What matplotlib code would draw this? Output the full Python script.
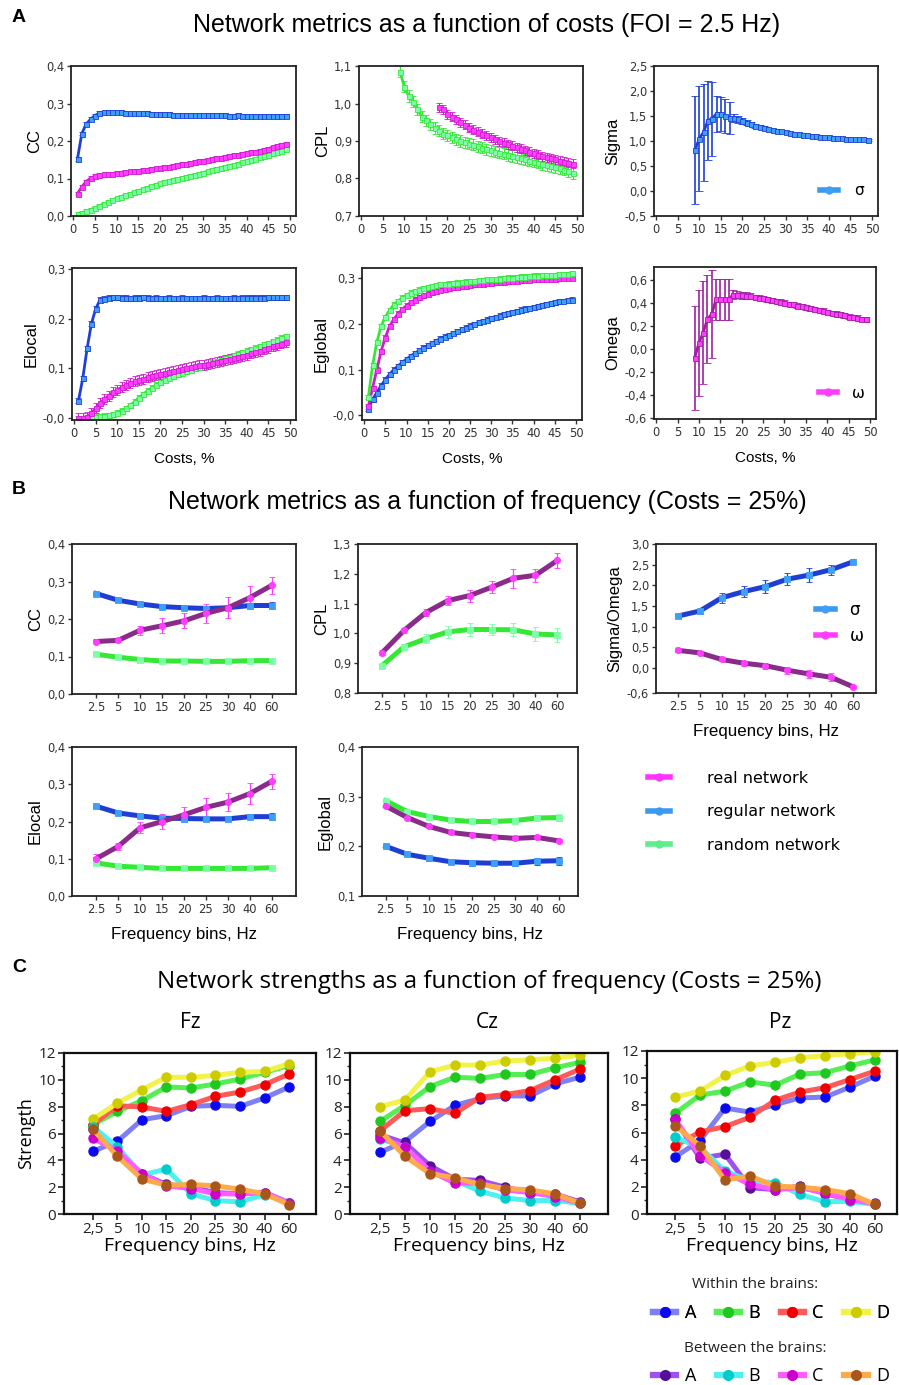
import matplotlib
matplotlib.use("Agg")
import matplotlib.pyplot as plt
from matplotlib.lines import Line2D
from matplotlib.ticker import MultipleLocator

# ---------------- panel A: metrics vs. costs (FOI = 2.5 Hz) ----------------
COSTS = list(range(1, 50))

CC_REG = [0.153, 0.220, 0.245, 0.258, 0.268, 0.274, 0.276, 0.277, 0.277, 0.278,
          0.277, 0.275, 0.274, 0.274, 0.274, 0.275, 0.275, 0.272, 0.272, 0.271,
          0.271, 0.271, 0.270, 0.270, 0.270, 0.270, 0.270, 0.269, 0.269, 0.269,
          0.269, 0.269, 0.269, 0.269, 0.269, 0.268, 0.268, 0.269, 0.268, 0.268,
          0.268, 0.268, 0.268, 0.268, 0.268, 0.268, 0.268, 0.268, 0.268]
CC_REAL = [0.060, 0.078, 0.092, 0.101, 0.106, 0.109, 0.111, 0.112, 0.113, 0.115,
           0.116, 0.118, 0.119, 0.120, 0.121, 0.122, 0.124, 0.125, 0.127, 0.129,
           0.130, 0.132, 0.134, 0.136, 0.138, 0.140, 0.142, 0.144, 0.146, 0.148,
           0.150, 0.152, 0.154, 0.156, 0.158, 0.160, 0.162, 0.164, 0.166, 0.168,
           0.170, 0.172, 0.174, 0.177, 0.180, 0.183, 0.186, 0.189, 0.192]
CC_RAND = [0.005, 0.009, 0.013, 0.017, 0.022, 0.027, 0.032, 0.037, 0.042, 0.047,
           0.051, 0.055, 0.059, 0.063, 0.067, 0.071, 0.075, 0.079, 0.083, 0.087,
           0.090, 0.093, 0.096, 0.099, 0.101, 0.104, 0.107, 0.110, 0.113, 0.116,
           0.119, 0.122, 0.125, 0.128, 0.131, 0.134, 0.137, 0.140, 0.143, 0.147,
           0.150, 0.153, 0.157, 0.160, 0.164, 0.167, 0.171, 0.174, 0.178]

# CPL only defined from 9 % (random) and 18 % (real)
CPL_RAND = [1.085, 1.045, 1.020, 1.005, 0.985, 0.965, 0.955, 0.945, 0.935, 0.928,
            0.920, 0.915, 0.910, 0.905, 0.900, 0.897, 0.893, 0.890, 0.886, 0.882,
            0.878, 0.875, 0.872, 0.869, 0.866, 0.863, 0.860, 0.857, 0.854, 0.851,
            0.848, 0.845, 0.842, 0.839, 0.836, 0.833, 0.830, 0.827, 0.824, 0.820,
            0.815]
CPL_REAL = [0.990, 0.985, 0.972, 0.965, 0.958, 0.950, 0.943, 0.935, 0.930, 0.925,
            0.920, 0.915, 0.910, 0.905, 0.900, 0.896, 0.892, 0.888, 0.884, 0.880,
            0.876, 0.872, 0.868, 0.864, 0.860, 0.857, 0.854, 0.851, 0.848, 0.845,
            0.842, 0.840]

SIGMA = [0.82, 1.05, 1.18, 1.41, 1.45, 1.55, 1.55, 1.50, 1.47, 1.47,
         1.44, 1.40, 1.37, 1.34, 1.31, 1.29, 1.27, 1.25, 1.23, 1.21,
         1.20, 1.18, 1.17, 1.15, 1.14, 1.13, 1.12, 1.11, 1.10, 1.09,
         1.08, 1.08, 1.07, 1.06, 1.06, 1.05, 1.05, 1.04, 1.04, 1.04,
         1.03]
SIGMA_ERR = [1.08, 1.05, 0.97, 0.79, 0.74, 0.36, 0.34, 0.34, 0.32, 0.08,
             0.07, 0.06, 0.05, 0.04, 0.04, 0.03, 0.03, 0.02, 0.02, 0.02,
             0.02, 0.02, 0.02, 0.02, 0.02, 0.02, 0.02, 0.02, 0.02, 0.02,
             0.02, 0.02, 0.02, 0.02, 0.02, 0.02, 0.02, 0.02, 0.02, 0.02,
             0.02]

ELOC_REG = [0.035, 0.080, 0.140, 0.190, 0.220, 0.238, 0.240, 0.242, 0.243, 0.243,
            0.242, 0.242, 0.241, 0.242, 0.242, 0.243, 0.242, 0.241, 0.242, 0.241,
            0.241, 0.242, 0.241, 0.241, 0.242, 0.241, 0.241, 0.241, 0.241, 0.242,
            0.241, 0.241, 0.242, 0.241, 0.241, 0.241, 0.242, 0.241, 0.242, 0.242,
            0.242, 0.242, 0.242, 0.242, 0.243, 0.243, 0.243, 0.243, 0.243]
ELOC_REAL = [0.000, 0.000, 0.003, 0.010, 0.020, 0.030, 0.038, 0.045, 0.052, 0.057,
             0.062, 0.066, 0.070, 0.074, 0.077, 0.079, 0.082, 0.085, 0.087, 0.089,
             0.090, 0.092, 0.094, 0.096, 0.098, 0.100, 0.102, 0.104, 0.106, 0.107,
             0.109, 0.111, 0.113, 0.115, 0.117, 0.119, 0.121, 0.123, 0.125, 0.127,
             0.130, 0.132, 0.135, 0.138, 0.141, 0.144, 0.147, 0.150, 0.153]
ELOC_RAND = [0.000, 0.000, 0.001, 0.002, 0.003, 0.004, 0.005, 0.006, 0.008, 0.011,
             0.015, 0.020, 0.026, 0.033, 0.041, 0.048, 0.055, 0.061, 0.067, 0.072,
             0.077, 0.081, 0.085, 0.088, 0.091, 0.094, 0.097, 0.100, 0.103, 0.106,
             0.108, 0.111, 0.114, 0.117, 0.120, 0.123, 0.126, 0.129, 0.132, 0.135,
             0.138, 0.141, 0.144, 0.148, 0.151, 0.155, 0.158, 0.162, 0.165]

EGLOB_REG = [0.015, 0.035, 0.050, 0.065, 0.078, 0.090, 0.100, 0.108, 0.116, 0.123,
             0.130, 0.136, 0.142, 0.148, 0.153, 0.158, 0.163, 0.168, 0.172, 0.176,
             0.180, 0.184, 0.188, 0.192, 0.196, 0.200, 0.203, 0.206, 0.209, 0.212,
             0.215, 0.218, 0.221, 0.223, 0.226, 0.228, 0.231, 0.233, 0.235, 0.237,
             0.239, 0.241, 0.243, 0.245, 0.247, 0.249, 0.250, 0.252, 0.253]
EGLOB_REAL = [0.020, 0.060, 0.100, 0.140, 0.170, 0.195, 0.210, 0.222, 0.232, 0.240,
              0.247, 0.253, 0.258, 0.262, 0.266, 0.269, 0.272, 0.274, 0.276, 0.278,
              0.280, 0.281, 0.282, 0.283, 0.285, 0.286, 0.287, 0.288, 0.289, 0.290,
              0.291, 0.292, 0.292, 0.293, 0.294, 0.294, 0.295, 0.296, 0.296, 0.297,
              0.297, 0.298, 0.298, 0.299, 0.299, 0.300, 0.300, 0.301, 0.301]
EGLOB_RAND = [0.040, 0.110, 0.160, 0.195, 0.215, 0.230, 0.242, 0.250, 0.257, 0.263,
              0.268, 0.272, 0.275, 0.278, 0.280, 0.282, 0.284, 0.286, 0.287, 0.288,
              0.289, 0.290, 0.291, 0.292, 0.293, 0.294, 0.295, 0.296, 0.297, 0.298,
              0.298, 0.299, 0.300, 0.301, 0.301, 0.302, 0.303, 0.303, 0.304, 0.305,
              0.305, 0.306, 0.306, 0.307, 0.307, 0.308, 0.308, 0.309, 0.310]

OMEGA = [-0.08, 0.05, 0.14, 0.26, 0.30, 0.43, 0.43, 0.43, 0.43, 0.47,
         0.47, 0.465, 0.46, 0.455, 0.45, 0.445, 0.44, 0.43, 0.42, 0.415,
         0.41, 0.40, 0.39, 0.385, 0.375, 0.37, 0.36, 0.35, 0.345, 0.335,
         0.33, 0.32, 0.31, 0.305, 0.30, 0.29, 0.28, 0.275, 0.27, 0.26,
         0.255]
OMEGA_ERR = [0.45, 0.46, 0.45, 0.38, 0.38, 0.18, 0.18, 0.18, 0.18, 0.04,
             0.03, 0.03, 0.03, 0.025, 0.02, 0.02, 0.02, 0.02, 0.02, 0.02,
             0.02, 0.02, 0.02, 0.02, 0.02, 0.02, 0.02, 0.02, 0.02, 0.02,
             0.02, 0.02, 0.02, 0.02, 0.02, 0.02, 0.02, 0.02, 0.02, 0.02,
             0.02]
COST_ERR = 0.005

# ---------------- panel B: metrics vs. frequency (costs = 25 %) ----------------
FREQ_B = ["2.5", "5", "10", "15", "20", "25", "30", "40", "60"]

B_CC_REG = [0.268, 0.250, 0.240, 0.233, 0.230, 0.228, 0.230, 0.236, 0.236]
B_CC_REG_ERR = [0.004, 0.004, 0.004, 0.005, 0.005, 0.005, 0.006, 0.008, 0.010]
B_CC_REAL = [0.140, 0.143, 0.170, 0.182, 0.195, 0.215, 0.230, 0.257, 0.290]
B_CC_REAL_ERR = [0.004, 0.005, 0.012, 0.020, 0.020, 0.025, 0.028, 0.030, 0.022]
B_CC_RAND = [0.106, 0.098, 0.092, 0.088, 0.088, 0.087, 0.087, 0.089, 0.089]

B_CPL_REAL = [0.935, 1.010, 1.070, 1.110, 1.127, 1.155, 1.185, 1.195, 1.245]
B_CPL_REAL_ERR = [0.008, 0.008, 0.012, 0.015, 0.020, 0.020, 0.032, 0.022, 0.025]
B_CPL_RAND = [0.892, 0.955, 0.982, 1.005, 1.013, 1.013, 1.012, 0.998, 0.995]
B_CPL_RAND_ERR = [0.008, 0.010, 0.015, 0.020, 0.022, 0.020, 0.022, 0.022, 0.024]

B_SIGMA = [1.26, 1.38, 1.70, 1.85, 1.97, 2.15, 2.25, 2.38, 2.57]
B_SIGMA_ERR = [0.05, 0.06, 0.12, 0.13, 0.15, 0.15, 0.16, 0.12, 0.06]
B_OMEGA = [0.43, 0.37, 0.21, 0.12, 0.06, -0.05, -0.14, -0.22, -0.45]
B_OMEGA_ERR = [0.02, 0.03, 0.04, 0.06, 0.07, 0.08, 0.09, 0.10, 0.03]

B_ELOC_REG = [0.241, 0.223, 0.215, 0.209, 0.208, 0.207, 0.207, 0.213, 0.213]
B_ELOC_REG_ERR = [0.004, 0.004, 0.004, 0.005, 0.005, 0.005, 0.006, 0.007, 0.009]
B_ELOC_REAL = [0.100, 0.133, 0.183, 0.200, 0.218, 0.238, 0.252, 0.275, 0.308]
B_ELOC_REAL_ERR = [0.012, 0.010, 0.015, 0.020, 0.020, 0.025, 0.025, 0.028, 0.020]
B_ELOC_RAND = [0.089, 0.080, 0.077, 0.074, 0.074, 0.074, 0.074, 0.074, 0.076]

B_EGLOB_RAND = [0.292, 0.270, 0.260, 0.253, 0.250, 0.250, 0.252, 0.257, 0.258]
B_EGLOB_REAL = [0.281, 0.258, 0.240, 0.228, 0.223, 0.219, 0.216, 0.218, 0.211]
B_EGLOB_REG = [0.200, 0.184, 0.176, 0.169, 0.167, 0.166, 0.166, 0.170, 0.171]
B_EGLOB_ERR = [0.004, 0.004, 0.005, 0.005, 0.006, 0.006, 0.006, 0.007, 0.008]

# ---------------- panel C: strengths vs. frequency ----------------
FREQ_C = ["2,5", "5", "10", "15", "20", "25", "30", "40", "60"]
STRENGTH_ERR = 0.25

FZ_WITHIN = {
    "A": [4.67, 5.42, 7.03, 7.33, 8.02, 8.10, 8.02, 8.65, 9.47],
    "B": [6.66, 7.65, 8.45, 9.47, 9.39, 9.69, 10.06, 10.56, 11.06],
    "C": [6.66, 8.07, 7.98, 7.65, 8.15, 8.77, 9.09, 9.64, 10.43],
    "D": [7.08, 8.27, 9.27, 10.19, 10.19, 10.34, 10.56, 10.63, 11.20],
}
FZ_BETWEEN = {
    "A": [6.30, 4.70, 3.00, 2.20, 2.00, 1.60, 1.50, 1.60, 0.85],
    "B": [6.50, 5.00, 2.90, 3.35, 1.50, 1.00, 0.90, 1.45, 0.85],
    "C": [5.65, 4.70, 3.00, 2.10, 1.90, 1.50, 1.50, 1.60, 0.80],
    "D": [6.30, 4.30, 2.60, 2.15, 2.20, 2.10, 1.85, 1.50, 0.70],
}
CZ_WITHIN = {
    "A": [4.60, 5.40, 6.90, 8.10, 8.60, 8.80, 8.80, 9.70, 10.20],
    "B": [6.90, 8.10, 9.50, 10.20, 10.10, 10.40, 10.40, 10.90, 11.30],
    "C": [6.20, 7.70, 7.85, 7.50, 8.70, 8.90, 9.20, 10.00, 10.80],
    "D": [8.00, 8.50, 10.60, 11.10, 11.10, 11.40, 11.50, 11.60, 11.85],
}
CZ_BETWEEN = {
    "A": [5.90, 5.30, 3.60, 2.60, 2.50, 2.00, 1.60, 1.50, 0.90],
    "B": [5.60, 5.00, 3.10, 2.50, 1.70, 1.20, 1.00, 1.00, 0.80],
    "C": [5.70, 5.00, 3.20, 2.30, 2.30, 1.80, 1.60, 1.30, 0.80],
    "D": [6.20, 4.30, 3.00, 2.70, 2.20, 1.90, 1.80, 1.50, 0.80],
}
PZ_WITHIN = {
    "A": [4.20, 5.40, 7.80, 7.50, 8.05, 8.55, 8.60, 9.35, 10.15],
    "B": [7.40, 8.75, 9.05, 9.73, 9.48, 10.30, 10.40, 10.90, 11.35],
    "C": [5.00, 6.05, 6.43, 7.13, 8.37, 8.98, 9.30, 9.90, 10.52],
    "D": [8.60, 9.05, 10.20, 10.90, 11.17, 11.50, 11.66, 11.80, 11.95],
}
PZ_BETWEEN = {
    "A": [7.00, 4.10, 4.40, 1.93, 1.80, 2.05, 1.50, 1.06, 0.80],
    "B": [5.65, 4.90, 3.17, 2.43, 2.30, 1.44, 0.90, 0.94, 0.70],
    "C": [7.00, 4.30, 3.05, 2.18, 1.80, 1.93, 1.56, 1.06, 0.77],
    "D": [6.50, 5.03, 2.50, 2.80, 2.05, 1.98, 1.80, 1.50, 0.70],
}

# colours: (line, marker)
REG = ("#1f3fd4", "#3f9ff5")
REAL_A = ("#cc1ecc", "#ff3cff")
REAL_B = ("#8a2a8a", "#ff3cff")
RAND = ("#35e835", "#7dffa8")
WITHIN_COL = {"A": ("#7f7ff5", "#0a0aee"), "B": ("#55ee55", "#1ec81e"),
              "C": ("#ff5a5a", "#ee0000"), "D": ("#f2f24a", "#cccc00")}
BETWEEN_COL = {"A": ("#a050f0", "#55109a"), "B": ("#50f0f0", "#00cccc"),
               "C": ("#ff5cff", "#cc00cc"), "D": ("#ffaa4a", "#a8561a")}

ARIAL = "Liberation Sans"
OPEN = "Open Sans"
plt.rcParams["font.family"] = "DejaVu Sans"

W, H = 899, 1385
fig = plt.figure(figsize=(W / 100, H / 100), dpi=100)


def add_ax(l, t, r, b):
    return fig.add_axes([l / W, 1 - b / H, (r - l) / W, (b - t) / H])


def frame(ax, ylim, yticks, ylabels, ylabel, fs=12, family=ARIAL, tick_fs=8.3):
    ax.set_ylim(*ylim)
    ax.set_yticks(yticks)
    ax.set_yticklabels(ylabels)
    ax.set_ylabel(ylabel, fontsize=fs, family=family, labelpad=3)
    for s in ax.spines.values():
        s.set_linewidth(1.3)
        s.set_color("#222222")
    ax.tick_params(direction="out", length=3, width=1, labelsize=tick_fs,
                   colors="#333333", pad=2)


def cost_axis(ax, xlabel=False):
    ax.set_xlim(-0.5, 51.4)
    ax.set_xticks(range(0, 51, 5))
    if xlabel:
        ax.set_xlabel("Costs, %", fontsize=11, family=ARIAL, labelpad=9)


def freq_axis(ax, xlim, xlabel=False):
    ax.set_xlim(*xlim)
    ax.set_xticks(range(len(FREQ_B)))
    ax.set_xticklabels(FREQ_B)
    if xlabel:
        ax.set_xlabel("Frequency bins, Hz", fontsize=12.2, family=ARIAL, labelpad=8)


def cost_line(ax, x, y, err, col):
    ax.errorbar(x, y, yerr=err, color=col[0], lw=2, marker="s", ms=3.6,
                mfc=col[1], mec=col[0], mew=0.6, ecolor=col[0], elinewidth=0.8,
                capsize=2, capthick=0.8)


def freq_line(ax, y, err, col, marker, ecol=None):
    ax.errorbar(range(len(y)), y, yerr=err, color=col[0], lw=3.6, marker=marker,
                ms=4.5, mfc=col[1], mec=col[1], mew=0.6, ecolor=ecol or col[1],
                elinewidth=0.9, capsize=2, capthick=0.9)


# ---------- A ----------
fig.text(12 / W, 1 - 18 / H, "A", fontsize=14, fontweight="bold", family=ARIAL, va="center")
fig.text(487 / W, 1 - 25 / H, "Network metrics as a function of costs (FOI = 2.5 Hz)",
         fontsize=18, family=ARIAL, ha="center", va="center")

ax = add_ax(71, 66, 296, 216)
cost_line(ax, COSTS, CC_RAND, COST_ERR, RAND)
cost_line(ax, COSTS, CC_REAL, COST_ERR, REAL_A)
cost_line(ax, COSTS, CC_REG, COST_ERR, REG)
cost_axis(ax)
frame(ax, (0, 0.4), [0, 0.1, 0.2, 0.3, 0.4], ["0,0", "0,1", "0,2", "0,3", "0,4"], "CC")

ax = add_ax(359, 66, 583, 216)
cost_line(ax, COSTS[8:], CPL_RAND, 0.015, RAND)
cost_line(ax, COSTS[17:], CPL_REAL, 0.012, REAL_A)
cost_axis(ax)
frame(ax, (0.7, 1.1), [0.7, 0.8, 0.9, 1.0, 1.1], ["0,7", "0,8", "0,9", "1,0", "1,1"], "CPL")

ax = add_ax(654, 66, 878, 216)
ax.errorbar(COSTS[8:], SIGMA, yerr=SIGMA_ERR, color=REG[0], lw=2, marker="s", ms=3.6,
            mfc=REG[1], mec=REG[0], mew=0.6, ecolor=REG[0], elinewidth=1.2,
            capsize=3, capthick=1.2)
cost_axis(ax)
frame(ax, (-0.5, 2.5), [-0.5, 0, 0.5, 1.0, 1.5, 2.0, 2.5],
      ["-0,5", "0,0", "0,5", "1,0", "1,5", "2,0", "2,5"], "Sigma")
ax.legend([Line2D([], [], color="#3a9af0", lw=4, marker="o", ms=5, mfc=REG[1], mec=REG[1])],
          ["σ"], loc="center left", bbox_to_anchor=(0.68, 0.17), frameon=False,
          fontsize=11, handlelength=1.2, handletextpad=1.0)

ax = add_ax(72, 268, 296, 420)
cost_line(ax, COSTS, ELOC_RAND, COST_ERR, RAND)
cost_line(ax, COSTS, ELOC_REAL, COST_ERR * 2, REAL_A)
cost_line(ax, COSTS, ELOC_REG, COST_ERR, REG)
cost_axis(ax, xlabel=True)
frame(ax, (-0.004, 0.302), [0, 0.1, 0.2, 0.3], ["-0,0", "0,1", "0,2", "0,3"], "Elocal")

ax = add_ax(362, 268, 582, 420)
cost_line(ax, COSTS, EGLOB_REG, COST_ERR, REG)
cost_line(ax, COSTS, EGLOB_REAL, COST_ERR, REAL_A)
cost_line(ax, COSTS, EGLOB_RAND, COST_ERR, RAND)
cost_axis(ax, xlabel=True)
frame(ax, (-0.01, 0.322), [0, 0.1, 0.2, 0.3], ["-0,0", "0,1", "0,2", "0,3"], "Eglobal")

ax = add_ax(654, 267, 876, 419)
ax.errorbar(COSTS[8:], OMEGA, yerr=OMEGA_ERR, color="#a020a0", lw=2, marker="s", ms=3.6,
            mfc=REAL_A[1], mec="#a020a0", mew=0.6, ecolor="#a020a0", elinewidth=1.2,
            capsize=3, capthick=1.2)
cost_axis(ax, xlabel=True)
frame(ax, (-0.61, 0.71), [-0.6, -0.4, -0.2, 0, 0.2, 0.4, 0.6],
      ["-0,6", "-0,4", "-0,2", "0,0", "0,2", "0,4", "0,6"], "Omega")
ax.legend([Line2D([], [], color=REAL_A[1], lw=4, marker="o", ms=5, mfc=REAL_A[1], mec=REAL_A[1])],
          ["ω"], loc="center left", bbox_to_anchor=(0.68, 0.17), frameon=False,
          fontsize=11, handlelength=1.2, handletextpad=1.0)

# ---------- B ----------
fig.text(12 / W, 1 - 490 / H, "B", fontsize=14, fontweight="bold", family=ARIAL, va="center")
fig.text(487 / W, 1 - 502 / H, "Network metrics as a function of frequency (Costs = 25%)",
         fontsize=18, family=ARIAL, ha="center", va="center")

ax = add_ax(72, 544, 296, 694)
freq_line(ax, B_CC_RAND, 0.002, RAND, "s")
freq_line(ax, B_CC_REG, B_CC_REG_ERR, REG, "s", REG[0])
freq_line(ax, B_CC_REAL, B_CC_REAL_ERR, REAL_B, "o")
freq_axis(ax, (-1.1, 9.1))
frame(ax, (0, 0.4), [0, 0.1, 0.2, 0.3, 0.4], ["0,0", "0,1", "0,2", "0,3", "0,4"], "CC")

ax = add_ax(358, 544, 577, 693)
freq_line(ax, B_CPL_RAND, B_CPL_RAND_ERR, RAND, "s")
freq_line(ax, B_CPL_REAL, B_CPL_REAL_ERR, REAL_B, "o")
freq_axis(ax, (-1.1, 8.9))
frame(ax, (0.8, 1.3), [0.8, 0.9, 1.0, 1.1, 1.2, 1.3],
      ["0,8", "0,9", "1,0", "1,1", "1,2", "1,3"], "CPL")

ax = add_ax(656, 544, 876, 693)
freq_line(ax, B_SIGMA, B_SIGMA_ERR, REG, "s", REG[0])
freq_line(ax, B_OMEGA, B_OMEGA_ERR, REAL_B, "o")
freq_axis(ax, (-1.0, 9.05), xlabel=True)
frame(ax, (-0.6, 3.0), [-0.6, 0, 0.5, 1.0, 1.5, 2.0, 2.5, 3.0],
      ["-0,6", "0,0", "0,5", "1,0", "1,5", "2,0", "2,5", "3,0"], "Sigma/Omega")
ax.legend([Line2D([], [], color="#3a9af0", lw=4, marker="o", ms=5, mfc=REG[1], mec=REG[1]),
           Line2D([], [], color=REAL_B[1], lw=4, marker="o", ms=5, mfc=REAL_B[1], mec=REAL_B[1])],
          ["σ", "ω"], loc="center left", bbox_to_anchor=(0.66, 0.47), frameon=False,
          fontsize=12, handlelength=1.1, handletextpad=0.9, labelspacing=0.45)

ax_eloc = add_ax(72, 747, 296, 896)
freq_line(ax_eloc, B_ELOC_RAND, 0.002, RAND, "s")
freq_line(ax_eloc, B_ELOC_REG, B_ELOC_REG_ERR, REG, "s", REG[0])
freq_line(ax_eloc, B_ELOC_REAL, B_ELOC_REAL_ERR, REAL_B, "o")
freq_axis(ax_eloc, (-1.1, 9.1), xlabel=True)
frame(ax_eloc, (0, 0.4), [0, 0.1, 0.2, 0.3, 0.4], ["0,0", "0,1", "0,2", "0,3", "0,4"], "Elocal")

ax = add_ax(362, 747, 578, 896)
freq_line(ax, B_EGLOB_RAND, B_EGLOB_ERR, RAND, "s")
freq_line(ax, B_EGLOB_REAL, 0.003, REAL_B, "o")
freq_line(ax, B_EGLOB_REG, B_EGLOB_ERR, REG, "s", REG[0])
freq_axis(ax, (-1.1, 8.9), xlabel=True)
frame(ax, (0.1, 0.4), [0.1, 0.2, 0.3, 0.4], ["0,1", "0,2", "0,3", "0,4"], "Eglobal")

net_handles = [Line2D([], [], color=c, lw=4, marker="o", ms=5, mfc=c, mec=c)
               for c in ("#ff33ff", "#3a9af0", "#5cee8a")]
fig.legend(net_handles, ["real network", "regular network", "random network"],
           loc="upper left", bbox_to_anchor=(648 / W, 1 - 771 / H), frameon=False,
           fontsize=11.5, handlelength=1.4, handletextpad=2.3, labelspacing=1.15,
           borderpad=0, borderaxespad=0)

# ---------- C ----------
fig.text(12 / W, 1 - 968 / H, "C", fontsize=14, fontweight="bold", family=ARIAL, va="center")
fig.text(489 / W, 1 - 982 / H, "Network strengths as a function of frequency (Costs = 25%)",
         fontsize=17.4, family=OPEN, ha="center", va="center")

panels_c = [
    ("Fz", (64, 1053, 316, 1214), (-1.18, 9.1), FZ_WITHIN, FZ_BETWEEN, 190),
    ("Cz", (350, 1053, 608, 1214), (-1.2, 9.12), CZ_WITHIN, CZ_BETWEEN, 487),
    ("Pz", (647, 1051, 897, 1214), (-1.12, 8.88), PZ_WITHIN, PZ_BETWEEN, 780),
]
for i, (name, pos, xlim, within, between, tx) in enumerate(panels_c):
    ax = add_ax(*pos)
    for key in "ABCD":
        line, dot = WITHIN_COL[key]
        ax.errorbar(range(9), within[key], yerr=STRENGTH_ERR, color=line, lw=3.6, marker="o",
                    ms=6.5, mfc=dot, mec=dot, ecolor=dot, elinewidth=1.2, capsize=0)
    for key in "ABCD":
        line, dot = BETWEEN_COL[key]
        ax.errorbar(range(9), between[key], yerr=STRENGTH_ERR, color=line, lw=3.6, marker="o",
                    ms=6.5, mfc=dot, mec=dot, ecolor=dot, elinewidth=1.2, capsize=0)
    ax.set_xlim(*xlim)
    ax.set_xticks(range(9))
    ax.set_xticklabels(FREQ_C, family=OPEN)
    ax.set_ylim(0, 12)
    ax.set_yticks(range(0, 13, 2))
    ax.set_yticklabels([str(v) for v in range(0, 13, 2)], family=OPEN)
    ax.yaxis.set_minor_locator(MultipleLocator(1))
    for s in ax.spines.values():
        s.set_linewidth(1.6)
        s.set_color("#111111")
    ax.tick_params(which="major", direction="out", length=4, width=1.2, labelsize=11,
                   colors="#222222", pad=2)
    ax.tick_params(which="minor", direction="out", length=2, width=1, colors="#222222")
    ax.set_xlabel("Frequency bins, Hz", fontsize=14, family=OPEN, labelpad=0)
    if i == 0:
        ax.set_ylabel("Strength", fontsize=13, family=OPEN, labelpad=2)
    fig.text(tx / W, 1 - 1022 / H, name, fontsize=15, family=OPEN, ha="center", va="center")

fig.text(755 / W, 1 - 1285 / H, "Within the brains:", fontsize=11, family=OPEN,
         ha="center", va="center", color="#222222")
fig.text(755 / W, 1 - 1348 / H, "Between the brains:", fontsize=11, family=OPEN,
         ha="center", va="center", color="#222222")


def group_handles(cols):
    return [Line2D([], [], color=cols[k][0], lw=4.5, marker="o", ms=7,
                   mfc=cols[k][1], mec=cols[k][1]) for k in "ABCD"]


leg = fig.legend(group_handles(WITHIN_COL), list("ABCD"), loc="center",
                 bbox_to_anchor=(771 / W, 1 - 1313 / H), ncol=4, frameon=False,
                 prop={"family": OPEN, "size": 13}, handlelength=1.3,
                 handletextpad=0.45, columnspacing=1.15, borderpad=0)
fig.add_artist(leg)
fig.legend(group_handles(BETWEEN_COL), list("ABCD"), loc="center",
           bbox_to_anchor=(771 / W, 1 - 1376 / H), ncol=4, frameon=False,
           prop={"family": OPEN, "size": 13}, handlelength=1.3,
           handletextpad=0.45, columnspacing=1.15, borderpad=0)

fig.savefig("out.png", dpi=100)
